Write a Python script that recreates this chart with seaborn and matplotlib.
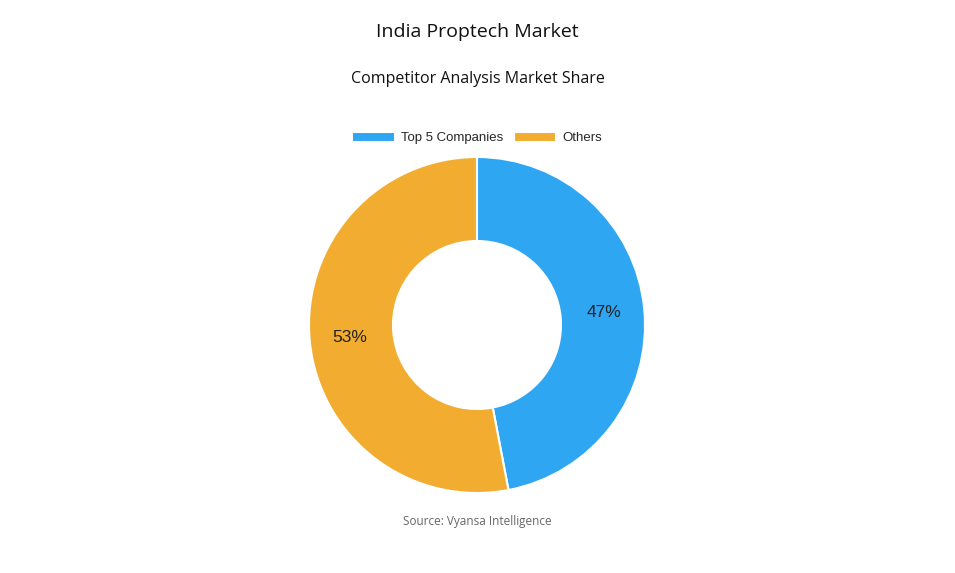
import matplotlib
matplotlib.use("Agg")
import matplotlib.pyplot as plt
import seaborn as sns

labels = ["Top 5 Companies", "Others"]
values = [47, 53]
colors = ["#2EA6F2", "#F2AC30"]

sns.set_theme(style="white")
plt.rcParams['font.family'] = ['Liberation Sans', 'DejaVu Sans']

fig = plt.figure(figsize=(9.55, 5.73), dpi=100)
fig.patch.set_facecolor("white")
r_px = 168
w = 2 * r_px / 955
h = 2 * r_px / 573
cx, cy = 477 / 955, 1 - 325 / 573
ax = fig.add_axes([cx - w / 2, cy - h / 2, w, h])
wedges, texts, autotexts = ax.pie(values, colors=colors, startangle=90, counterclock=False,
       autopct=lambda p: f"{p:.0f}%", pctdistance=0.76,
       wedgeprops=dict(width=0.5, edgecolor="white", linewidth=1.5),
       textprops=dict(fontsize=12.5, color="#222222"))
ax.set_aspect("equal")
ax.set_xlim(-1, 1); ax.set_ylim(-1, 1)
ax.axis("off")

fig.text(0.5, 1 - 32 / 573, "India Proptech Market", ha="center", va="center",
         fontsize=14, family=["Open Sans", "DejaVu Sans"], color="#111111")
fig.text(0.5, 1 - 79 / 573, "Competitor Analysis Market Share", ha="center", va="center",
         fontsize=11.5, family=["Open Sans", "DejaVu Sans"], color="#111111")
fig.text(0.5, 1 - 522 / 573, "Source: Vyansa Intelligence", ha="center", va="center",
         fontsize=8.5, family=["Open Sans", "DejaVu Sans"], color="#666666")
fig.legend(wedges, labels, loc="center", bbox_to_anchor=(0.5, 1 - 138 / 573), ncol=2,
           frameon=False, fontsize=9.5, handlelength=3.2, handleheight=0.8,
           columnspacing=0.8, handletextpad=0.5)
fig.savefig("out.png", dpi=100, facecolor="white")
